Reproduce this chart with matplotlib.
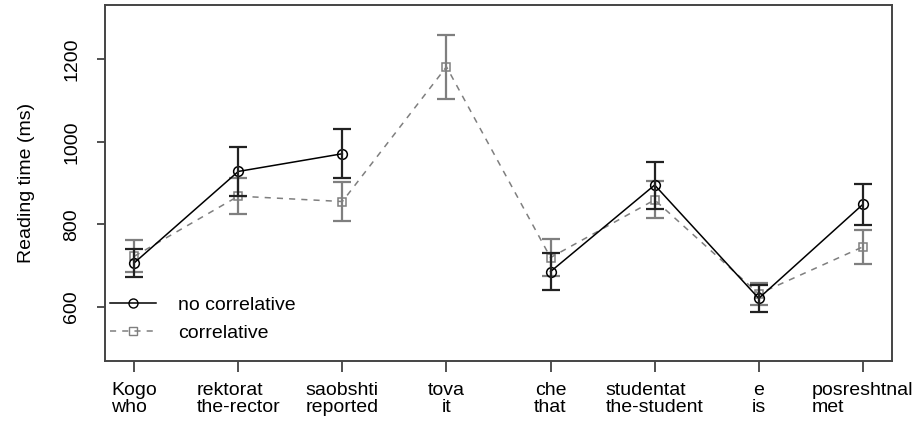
import matplotlib.pyplot as plt
from matplotlib.lines import Line2D

plt.rcParams['font.family'] = ['Liberation Sans', 'DejaVu Sans']

regions = ['Kogo\nwho', 'rektorat\nthe-rector', 'saobshti\nreported', 'tova\nit',
           'che\nthat', 'studentat\nthe-student', 'e\nis', 'posreshtnal\nmet']
x_pos = list(range(1, len(regions) + 1))

# no correlative (no value at "tova")
no_corr = [706, 928, 971, None, 685, 895, 620, 848]
no_corr_se = [34, 59, 60, None, 44, 57, 32, 50]

# correlative
corr = [722, 868, 855, 1182, 719, 859, 631, 745]
corr_se = [39, 44, 47, 78, 45, 45, 26, 42]

gray = '#7f7f7f'

fig = plt.figure(figsize=(9.23, 4.26), dpi=100)
ax = fig.add_axes([0.1138, 0.1526, 0.8526, 0.8357])

# correlative series first, so the black line sits on top
ax.plot(x_pos, corr, color=gray, linestyle=(0, (4, 4)), linewidth=1.1,
        marker='s', markersize=6, markerfacecolor='none', markeredgecolor=gray,
        markeredgewidth=1.1)
ax.errorbar(x_pos, corr, yerr=corr_se, fmt='none', ecolor=gray,
            elinewidth=1.6, capsize=6.5, capthick=1.6)

nx = [x for x, v in zip(x_pos, no_corr) if v is not None]
ny = [v for v in no_corr if v is not None]
ne = [e for e in no_corr_se if e is not None]
# line only joins consecutive regions
ax.plot(x_pos[:3], no_corr[:3], color='black', linewidth=1.1,
        marker='o', markersize=7, markerfacecolor='none', markeredgewidth=1.1)
ax.plot(x_pos[4:], no_corr[4:], color='black', linewidth=1.1,
        marker='o', markersize=7, markerfacecolor='none', markeredgewidth=1.1)
ax.errorbar(nx, ny, yerr=ne, fmt='none', ecolor='#222222',
            elinewidth=1.6, capsize=6.5, capthick=1.6)

ax.set_xlim(0.72, 8.28)
ax.set_ylim(468, 1332)
ax.set_yticks([600, 800, 1000, 1200])
ax.set_yticklabels(['600', '800', '1000', '1200'], rotation=90, va='center')
ax.set_xticks(x_pos)
ax.set_xticklabels(regions, multialignment='left', linespacing=1.0)
# short labels are centred line by line
for lab in ax.get_xticklabels():
    if lab.get_text() in ('tova\nit', 'che\nthat', 'e\nis'):
        lab.set_multialignment('center')
ax.set_ylabel('Reading time (ms)', fontsize=14, labelpad=20)

ax.tick_params(axis='both', labelsize=14, colors='#333333', labelcolor='black')
ax.tick_params(axis='x', length=8, width=1.2, pad=7)
ax.tick_params(axis='y', length=6, width=1.2, pad=12)
for s in ax.spines.values():
    s.set_color('#444444')
    s.set_linewidth(1.4)

handles = [
    Line2D([], [], color='black', linewidth=1.1, marker='o', markersize=6.5,
           markerfacecolor='none'),
    Line2D([], [], color=gray, linewidth=1.1, linestyle=(0, (4, 4)), marker='s',
           markersize=5.5, markerfacecolor='none', markeredgecolor=gray),
]
ax.legend(handles, ['no correlative', 'correlative'], loc='lower left',
          bbox_to_anchor=(-0.009, 0.02), frameon=False, fontsize=14,
          handlelength=2.4, handletextpad=1.1, labelspacing=0.55,
          borderaxespad=0.2)

plt.savefig('out.png', dpi=100)
